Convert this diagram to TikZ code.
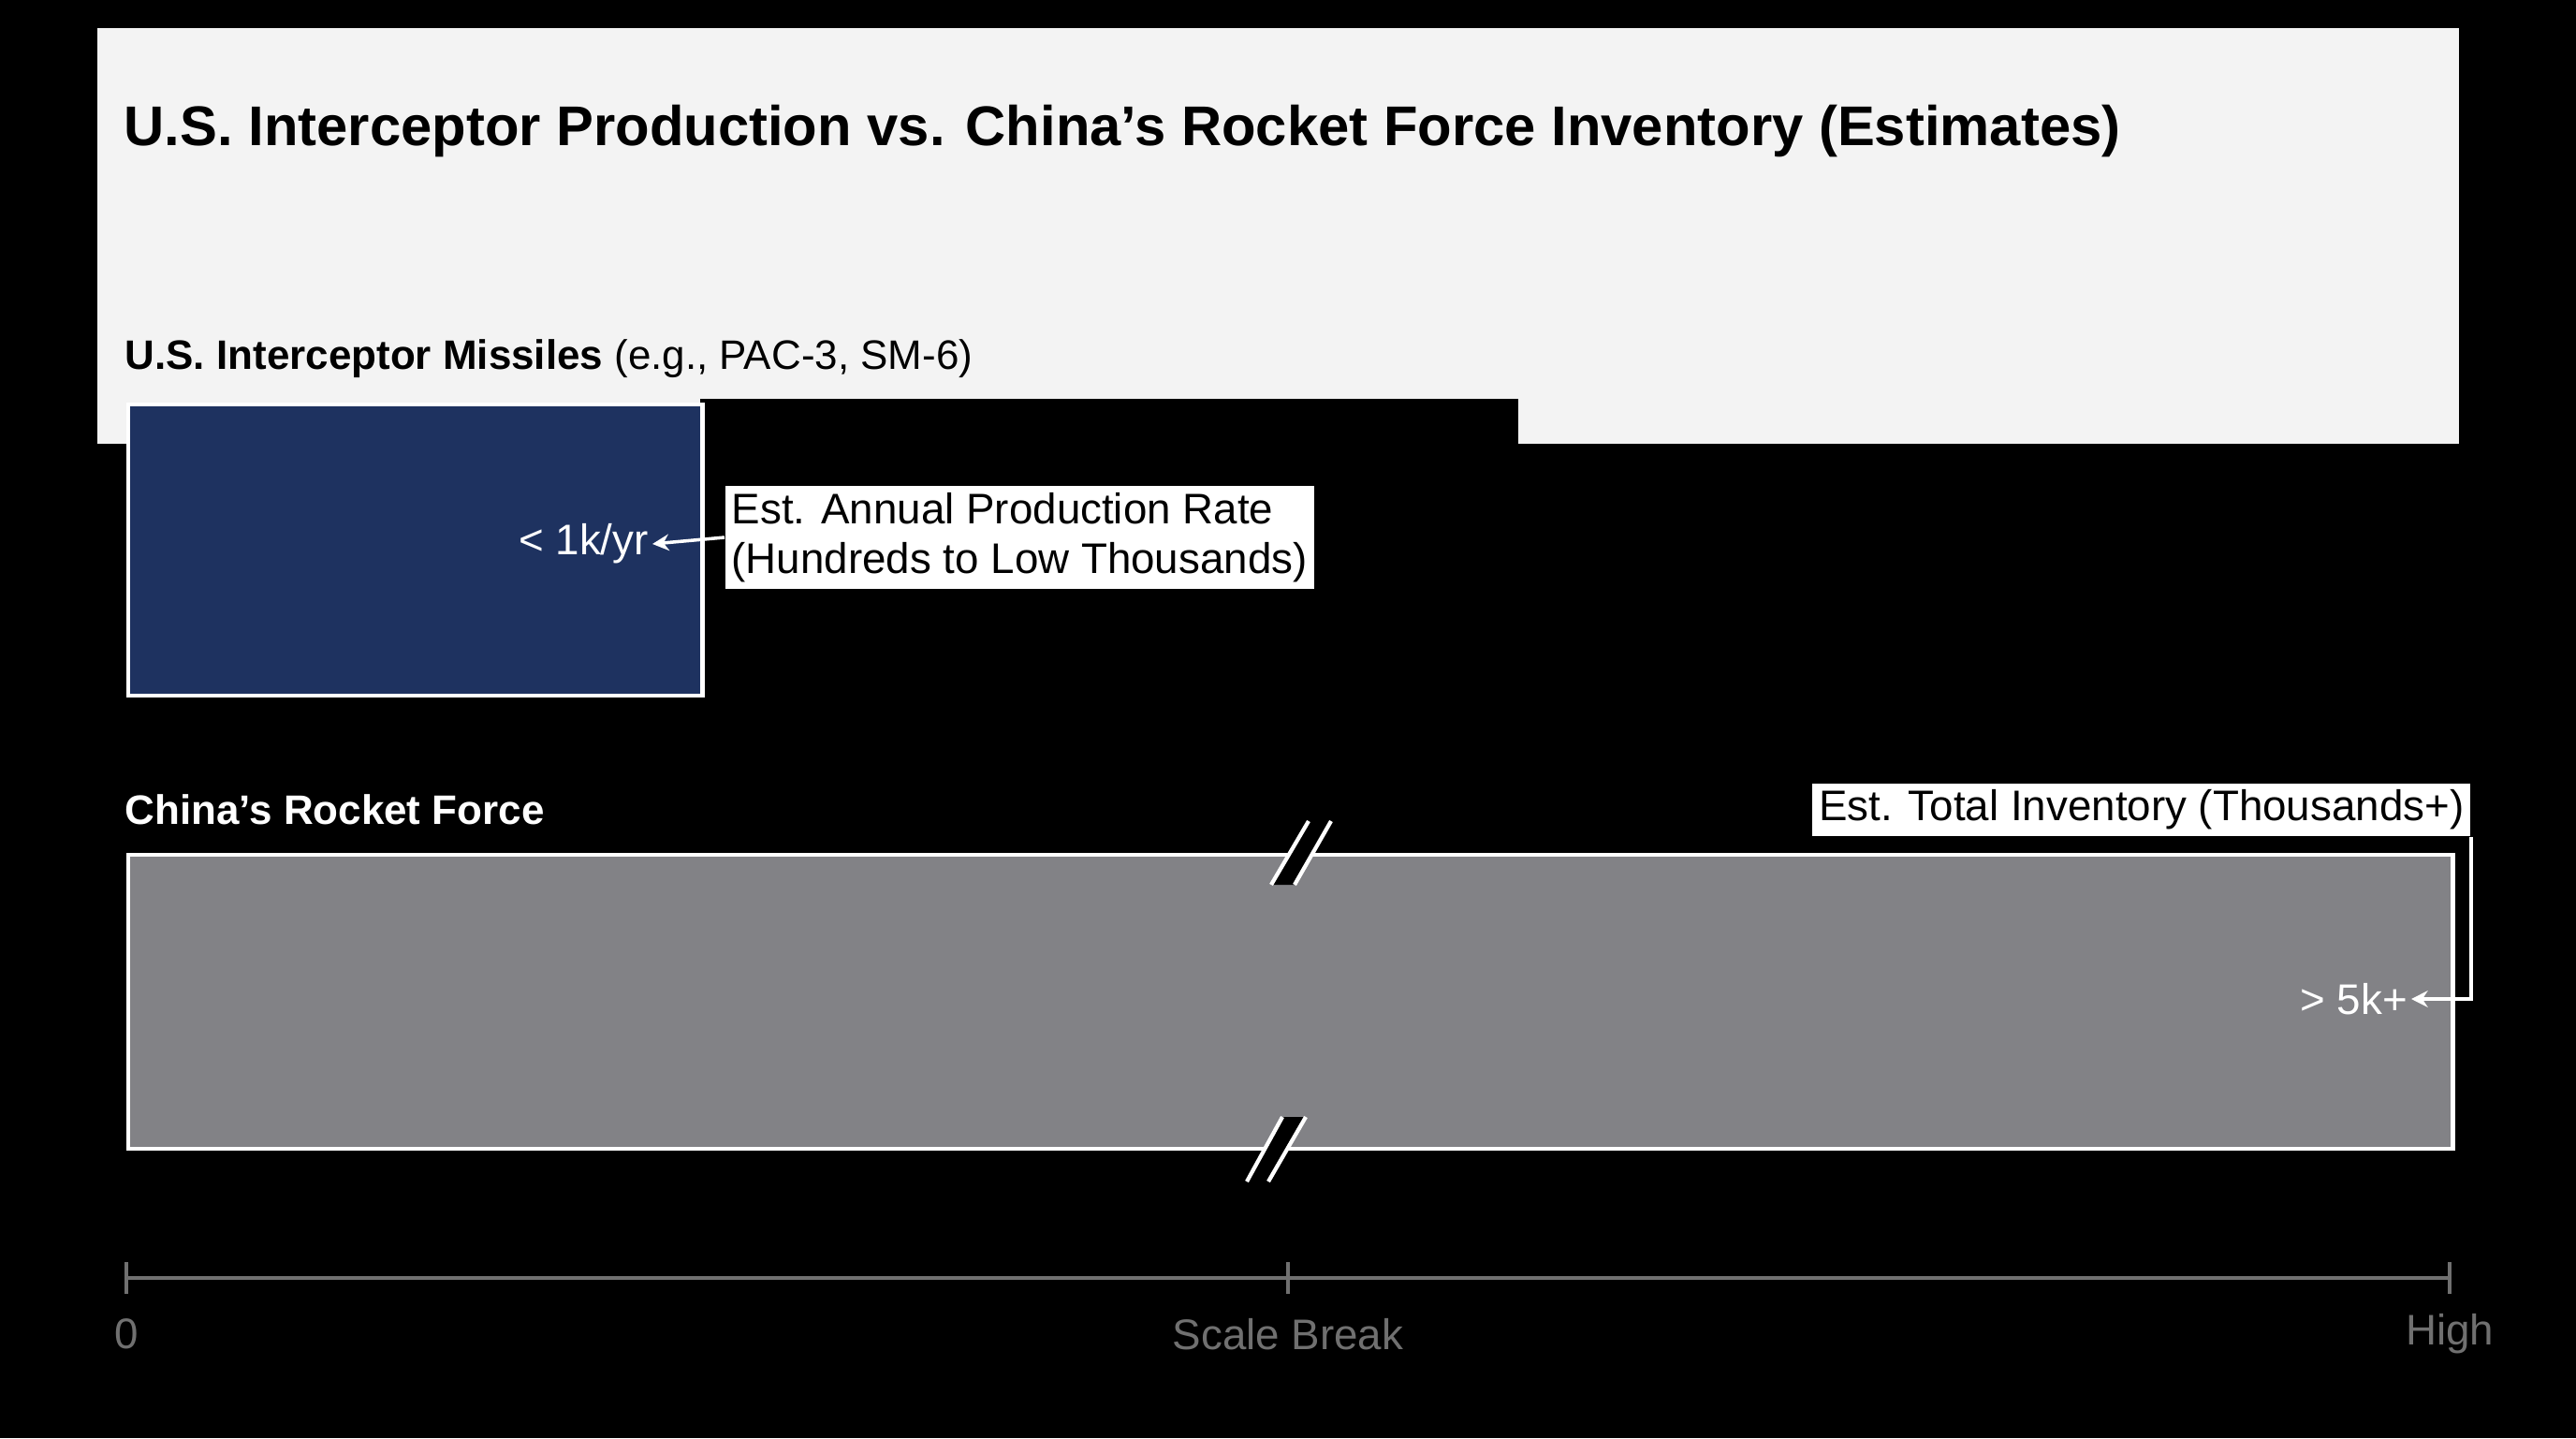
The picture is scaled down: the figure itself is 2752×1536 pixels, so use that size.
\documentclass[tikz,border=0pt]{standalone}
\usepackage{fontspec}
\setmainfont{Liberation Sans}
\usetikzlibrary{arrows.meta}
\definecolor{panelgray}{HTML}{F3F3F3}
\definecolor{navybar}{HTML}{1E3260}
\definecolor{rocketgray}{HTML}{828286}
\definecolor{axisgray}{HTML}{707070}
\tikzset{
    bar/.style={draw=white, line width=1.2pt, anchor=north west, inner sep=0pt},
    callout/.style={fill=white, text=black, font=\fontsize{13}{15}\selectfont, inner sep=2pt, align=left},
    value/.style={text=white, font=\fontsize{13}{15}\selectfont, anchor=east, inner sep=1pt},
    pointer/.style={white, line width=1pt, -{Stealth[length=5pt,width=5pt]}},
    tick label/.style={text=axisgray, font=\fontsize{13}{15}\selectfont},
    breakmark/.style={fill=black, draw=none},
}
\begin{document}
\begin{tikzpicture}[x=0.01cm, y=-0.01cm]
        % background and panel
        \fill[black] (0,0) rectangle (2752,1536);
        \useasboundingbox (0,0) rectangle (2752,1536);
        \fill[panelgray] (104,30) rectangle (2627,474);
        \fill[black] (748,426) rectangle (1622,474);

        % titles
        \node[anchor=west, inner sep=0pt, font=\bfseries\fontsize{17}{20}\selectfont] at (132,140) (title) {U.S. Interceptor Production vs. China’s Rocket Force Inventory (Estimates)};
        \node[anchor=west, inner sep=0pt, font=\fontsize{12.5}{15}\selectfont] at (133,383) (us title) {\textbf{U.S. Interceptor Missiles} (e.g., PAC-3, SM-6)};
        \node[anchor=west, inner sep=0pt, text=white, font=\bfseries\fontsize{12.5}{15}\selectfont] at (133,865) (cn title) {China’s Rocket Force};

        % bars
        \node[bar, fill=navybar, minimum width=6.13cm, minimum height=3.11cm] at (135,430) (us bar) {};
        \node[bar, fill=rocketgray, minimum width=24.82cm, minimum height=3.14cm] at (135,911) (cn bar) {};

        % scale break marks
        \fill[breakmark] (1358,945) -- (1398,877) -- (1422,877) -- (1383,945) -- cycle;
        \draw[white, line width=1.2pt] (1358,945) -- (1398,877) (1383,945) -- (1422,877);
        \fill[breakmark] (1332,1262) -- (1370,1193) -- (1395,1193) -- (1355,1262) -- cycle;
        \draw[white, line width=1.2pt] (1332,1262) -- (1370,1193) (1355,1262) -- (1395,1193);

        % values and callouts
        \node[value] at (697,581) (us value) {< 1k/yr};
        \node[callout, anchor=west] at (774,574) (us note) {Est. Annual Production Rate\\(Hundreds to Low Thousands)};
        \node[value] at (2576,1067) (cn value) {> 5k+};
        \node[callout, anchor=east] at (2640,865) (cn note) {Est. Total Inventory (Thousands+)};
        \coordinate (cn bend) at (cn note.south east |- cn value);

        % links
        \draw[pointer] (us note.west) -- (us value.east);
        \draw[pointer] (cn note.south east) -- (cn bend) -- (cn value.east);

        % axis
        \coordinate (ax0) at (135,1365);
        \coordinate (ax1) at (1376,1365);
        \coordinate (ax2) at (2617,1365);
        \draw[axisgray, line width=1pt] (ax0) -- (ax2);
        \foreach \t in {ax0,ax1,ax2}
            \draw[axisgray, line width=1pt] ([yshift=-0.17cm]\t) -- ([yshift=0.17cm]\t);
        \node[tick label] at (135,1425) (zero label) {0};
        \node[tick label] at (1376,1425) (break label) {Scale Break};
        \node[tick label] at (2617,1425) (high label) {High};
\end{tikzpicture}
\end{document}
